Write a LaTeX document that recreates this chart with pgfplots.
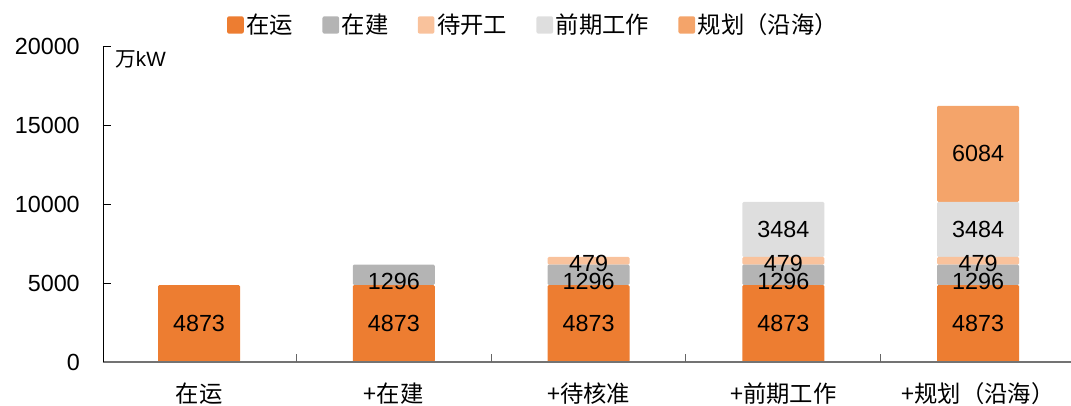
\documentclass[border=0pt]{standalone}
\usepackage{fontspec}
\setmainfont{Liberation Sans}
\newfontfamily\cjk{Noto Sans CJK SC}
\usepackage{pgfplots}
\usepackage{pgfplotstable}
\pgfplotsset{compat=1.18}

\definecolor{cYunxing}{HTML}{ED7D31}
\definecolor{cZaijian}{HTML}{B4B4B4}
\definecolor{cDaikai}{HTML}{F9C29C}
\definecolor{cQianqi}{HTML}{DEDEDE}
\definecolor{cGuihua}{HTML}{F4A46A}

% capacity (10^4 kW) by stage, cumulative scenarios 0..4
\pgfplotstableread{
x  yunxing zaijian daikai qianqi guihua
0  4873    0       0      0      0
1  4873    1296    0      0      0
2  4873    1296    479    0      0
3  4873    1296    479    3484   0
4  4873    1296    479    3484   6084
}\capdata

\pgfplotsset{
  stagebar/.style={fill=#1, draw=none, rounded corners=1pt,
    legend image code/.code={\fill[#1, rounded corners=1.5pt] (0pt,-6.5pt) rectangle (12.5pt,6.5pt);}},
}

\begin{document}
\begin{tikzpicture}
\begin{axis}[
  at={(0,0)}, anchor=south west,
  scale only axis, width=726pt, height=237pt,
  xmin=-0.493, xmax=4.477, ymin=0, ymax=20000,
  ybar stacked, bar width=61.5pt,
  axis on top,
  axis x line*=bottom, axis y line*=left,
  x axis line style={draw=black!55, line width=1.1pt},
  y axis line style={draw=black, line width=0.7pt},
  xtick={0,1,2,3,4},
  xticklabels={在运,+在建,+待核准,+前期工作,+规划（沿海）},
  major x tick style={draw=none},
  extra x ticks={0.5,1.5,2.5,3.5},
  extra x tick labels={},
  extra x tick style={tick align=inside, major tick length=6pt,
    major x tick style={draw=black!60, line width=0.7pt}},
  xticklabel style={font=\cjk\fontsize{17.5}{20}\selectfont, anchor=center, yshift=-24pt},
  ytick={0,5000,10000,15000,20000},
  ytick pos=left, tick align=inside, major tick length=6pt,
  major y tick style={draw=black, line width=0.7pt},
  yticklabel style={font=\fontsize{17.5}{20}\selectfont, inner sep=0pt, anchor=east, xshift=-17.25pt},
  scaled y ticks=false,
  /pgf/number format/1000 sep={},
  /pgf/number format/assume math mode=true,
  visualization depends on={rawy \as \segval},
  nodes near coords={\ifdim\segval pt=0pt\else\pgfmathprintnumber{\segval}\fi},
  every node near coord/.append style={font=\fontsize{17.5}{20}\selectfont,
    text=black, anchor=center},
  legend columns=-1,
  legend style={at={(0.445,1.0665)}, anchor=center, draw=none, fill=none,
    font=\cjk\fontsize{17.5}{20}\selectfont,
    /tikz/every odd column/.append style={column sep=0pt},
    /tikz/every even column/.append style={column sep=20pt}},
]
\addplot[stagebar=cYunxing] table[x=x, y=yunxing] {\capdata};
\addplot[stagebar=cZaijian, every node near coord/.append style={yshift=-5pt}]
  table[x=x, y=zaijian] {\capdata};
\addplot[stagebar=cDaikai, every node near coord/.append style={yshift=-2pt}]
  table[x=x, y=daikai]  {\capdata};
\addplot[stagebar=cQianqi]  table[x=x, y=qianqi]  {\capdata};
\addplot[stagebar=cGuihua]  table[x=x, y=guihua]  {\capdata};
\legend{在运,在建,待开工,前期工作,规划（沿海）}
\node[anchor=west, inner sep=0pt, font=\fontsize{15.5}{17}\selectfont]
  at (rel axis cs:0.0124,0.956) {{\cjk 万}kW};
\end{axis}
\pgfresetboundingbox
\path[use as bounding box] (-77.25pt,-33pt) rectangle (726pt,271.5pt);
\end{tikzpicture}
\end{document}
